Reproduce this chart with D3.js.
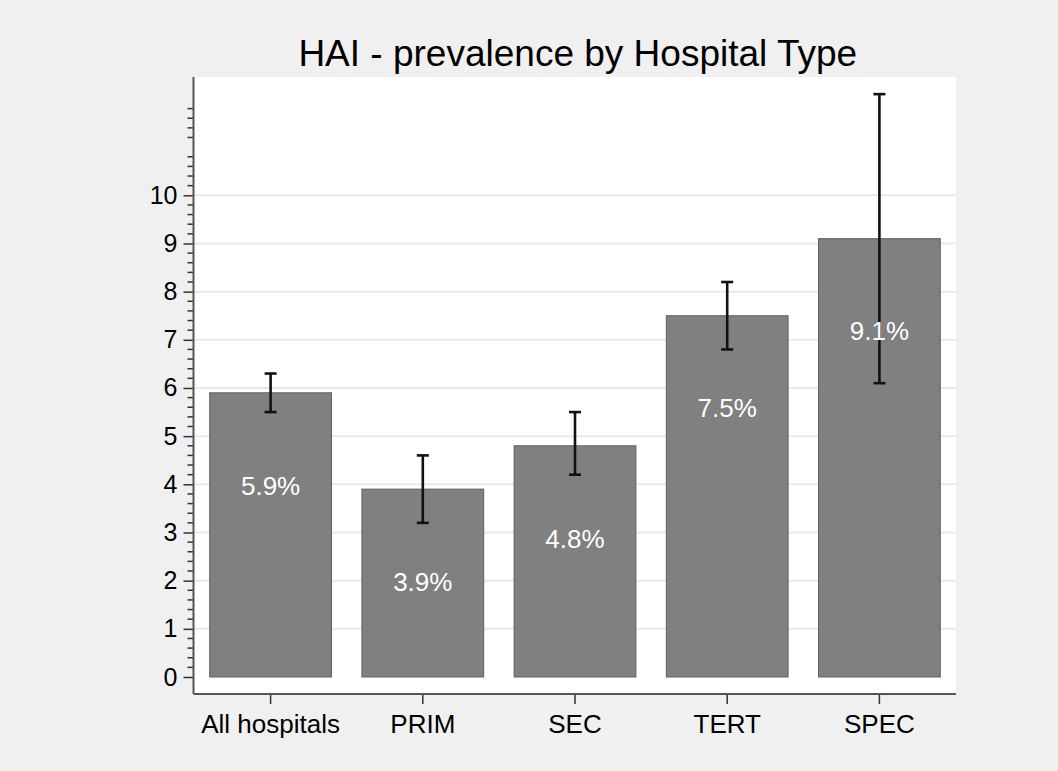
<!DOCTYPE html>
<html><head><meta charset="utf-8">
<script src="https://cdn.jsdelivr.net/npm/d3@7"></script>
<style>
html,body{margin:0;padding:0;background:#f0f0f0;}
svg{display:block;font-family:"Liberation Sans",Arial,sans-serif;}
</style></head>
<body><svg id="chart" width="1058" height="771"></svg>
<script>
const categories = ["All hospitals","PRIM","SEC","TERT","SPEC"];
const prevalence = [5.9, 3.9, 4.8, 7.5, 9.1];
const ciLower = [5.5, 3.2, 4.2, 6.8, 6.1];
const ciUpper = [6.3, 4.6, 5.5, 8.2, 12.1];
const yTickLabels = [0,1,2,3,4,5,6,7,8,9,10];
const chartTitle = "HAI - prevalence by Hospital Type";

const svg = d3.select("#chart");
const W = 1058, H = 771;
svg.append("rect").attr("width",W).attr("height",H).attr("fill","#f0f0f0");

const pL = 193.5, pR = 956, pT = 77, pB = 694;
const y = d3.scaleLinear().domain([0, 10]).range([677, 195.3]);
const x = d3.scaleBand().domain(categories).range([194.5, 955.5]).paddingInner(0.2).paddingOuter(0.1);

// plot region
svg.append("rect").attr("x",pL).attr("y",pT).attr("width",pR-pL).attr("height",pB-pT).attr("fill","#ffffff");

// gridlines
svg.append("g").selectAll("line").data(yTickLabels.filter(d=>d>0)).join("line")
  .attr("x1",pL).attr("x2",pR).attr("y1",d=>y(d)).attr("y2",d=>y(d))
  .attr("stroke","#e8e8e8").attr("stroke-width",2);

// bars
svg.append("g").selectAll("rect").data(categories).join("rect")
  .attr("x",d=>x(d)).attr("width",x.bandwidth())
  .attr("y",(d,i)=>y(prevalence[i])).attr("height",(d,i)=>y(0)-y(prevalence[i]))
  .attr("fill","#808080").attr("stroke","#606060").attr("stroke-width",1);

// error bars
const eb = svg.append("g").attr("stroke","#111").attr("stroke-width",2.6);
categories.forEach((c,i)=>{
  const cx = x(c)+x.bandwidth()/2;
  eb.append("line").attr("x1",cx).attr("x2",cx).attr("y1",y(ciLower[i])).attr("y2",y(ciUpper[i]));
  eb.append("line").attr("x1",cx-6).attr("x2",cx+6).attr("y1",y(ciLower[i])).attr("y2",y(ciLower[i]));
  eb.append("line").attr("x1",cx-6).attr("x2",cx+6).attr("y1",y(ciUpper[i])).attr("y2",y(ciUpper[i]));
});

// value labels
svg.append("g").selectAll("text").data(categories).join("text")
  .attr("x",d=>x(d)+x.bandwidth()/2)
  .attr("y",(d,i)=>y(prevalence[i]-1.95))
  .attr("dy","0.3em").attr("text-anchor","middle")
  .attr("fill","#ffffff").attr("font-size",26)
  .text((d,i)=>prevalence[i].toFixed(1)+"%");

// y axis
const yAxisG = svg.append("g").attr("transform",`translate(${pL},0)`);
yAxisG.call(d3.axisLeft(y).tickValues(yTickLabels).tickSize(10).tickPadding(6).tickFormat(d3.format("d")));
const minorVals = d3.range(0, 60.5, 1).map(v=>v/5).filter(v=>Math.abs(v-Math.round(v))>1e-6);
yAxisG.selectAll(".minor").data(minorVals).join("line").attr("class","minor")
  .attr("x1",-6).attr("x2",0).attr("y1",d=>y(d)).attr("y2",d=>y(d))
  .attr("stroke","#333").attr("stroke-width",1.5);
yAxisG.select(".domain").remove();
yAxisG.append("line").attr("x1",0).attr("x2",0).attr("y1",pT).attr("y2",pB).attr("stroke","#555").attr("stroke-width",2);
yAxisG.selectAll(".tick line").attr("stroke","#333").attr("stroke-width",1.5);
yAxisG.selectAll(".tick text").attr("font-size",25).attr("fill","#000").attr("font-family","Liberation Sans, Arial, sans-serif");

// x axis
const xAxisG = svg.append("g").attr("transform",`translate(0,${pB})`);
xAxisG.call(d3.axisBottom(x).tickSize(10).tickPadding(10.5));
xAxisG.select(".domain").remove();
xAxisG.append("line").attr("x1",pL).attr("x2",pR).attr("y1",0).attr("y2",0).attr("stroke","#555").attr("stroke-width",2);
xAxisG.selectAll(".tick line").attr("stroke","#333").attr("stroke-width",1.5);
xAxisG.selectAll(".tick text").attr("font-size",26).attr("fill","#000").attr("font-family","Liberation Sans, Arial, sans-serif");

// title
svg.append("text").attr("x",(pL+pR)/2 + 3).attr("y",66).attr("text-anchor","middle")
  .attr("font-size",37).attr("fill","#000").text(chartTitle);
</script></body></html>
